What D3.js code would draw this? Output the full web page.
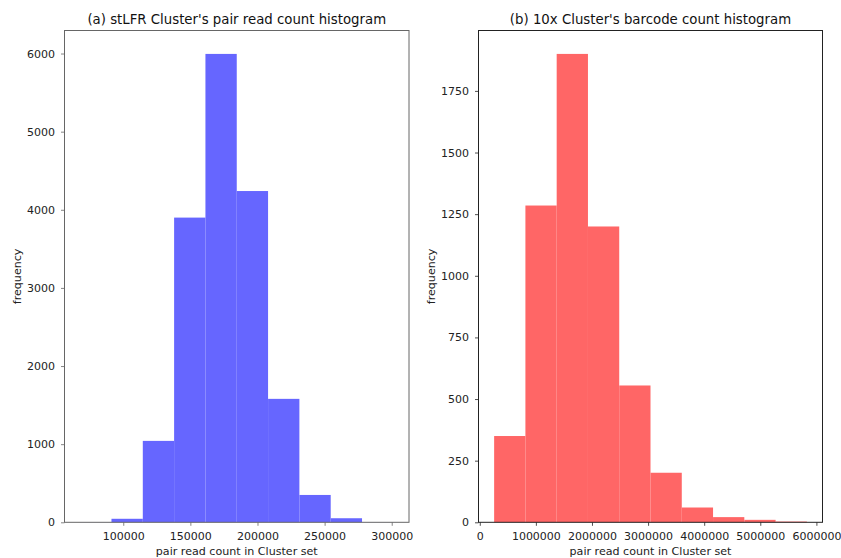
<!DOCTYPE html>
<html><head><meta charset="utf-8">
<script src="https://cdn.jsdelivr.net/npm/d3@7"></script>
<style>
body{margin:0;background:#fff;}
text{font-family:"DejaVu Sans",sans-serif;}
</style></head>
<body>
<svg id="chart" width="841" height="558"></svg>
<script>
// ---- data ----
const stlfrTitle = "(a) stLFR Cluster's pair read count histogram";
const stlfrEdges = [67900, 91230, 114560, 137890, 161220, 184550, 207880, 231210, 254540, 277870, 301200];
const stlfrCounts = [1, 45, 1042, 3900, 5995, 4240, 1580, 350, 52, 1];
const stlfrXTicks = [100000, 150000, 200000, 250000, 300000];
const stlfrYTicks = [0, 1000, 2000, 3000, 4000, 5000, 6000];

const tenxTitle = "(b) 10x Cluster's barcode count histogram";
const tenxEdges = [256000, 813400, 1370800, 1928200, 2485600, 3043000, 3600400, 4157800, 4715200, 5272600, 5830000];
const tenxCounts = [350, 1285, 1900, 1200, 555, 201, 60, 21, 10, 3];
const tenxXTicks = [0, 1000000, 2000000, 3000000, 4000000, 5000000, 6000000];
const tenxYTicks = [0, 250, 500, 750, 1000, 1250, 1500, 1750];

const xLabel = "pair read count in Cluster set";
const yLabel = "frequency";

const svg = d3.select("#chart");

function panel(opts){
  const {x0, x1, y0, y1, edges, counts, xTicks, yTicks, title, fill, spine} = opts;
  const lo = edges[0], hi = edges[edges.length-1], R = hi - lo;
  const x = d3.scaleLinear().domain([lo - 0.05*R, hi + 0.05*R]).range([x0, x1]);
  const y = d3.scaleLinear().domain([0, d3.max(counts)*1.05]).range([y1, y0]);
  const g = svg.append("g");
  const bins = counts.map((c,i)=>({a:edges[i], b:edges[i+1], c}));
  g.selectAll("rect.bar").data(bins).enter().append("rect")
    .attr("class","bar")
    .attr("x", d=>x(d.a)).attr("width", d=>x(d.b)-x(d.a))
    .attr("y", d=>y(d.c)).attr("height", d=>y(0)-y(d.c))
    .attr("fill", fill);
  // frame
  g.append("rect").attr("x",x0).attr("y",y0).attr("width",x1-x0).attr("height",y1-y0)
    .attr("fill","none").attr("stroke",spine).attr("stroke-width",1);
  const xa = g.append("g").attr("transform",`translate(0,${y1})`)
    .call(d3.axisBottom(x).tickValues(xTicks).tickFormat(d3.format("d")).tickSizeInner(3.5).tickSizeOuter(0).tickPadding(6));
  const ya = g.append("g").attr("transform",`translate(${x0},0)`)
    .call(d3.axisLeft(y).tickValues(yTicks).tickFormat(d3.format("d")).tickSizeInner(3.5).tickSizeOuter(0).tickPadding(6));
  [xa, ya].forEach(a=>{
    a.select(".domain").remove();
    a.selectAll("line").attr("stroke",spine).attr("stroke-width",0.8);
    a.selectAll("text").attr("font-family","DejaVu Sans").attr("font-size",11).attr("fill","#222");
  });
  g.append("text").attr("x",(x0+x1)/2).attr("y",24).attr("text-anchor","middle")
    .attr("font-size",13.3).attr("fill","#111").text(title);
  g.append("text").attr("x",(x0+x1)/2).attr("y",555).attr("text-anchor","middle")
    .attr("font-size",11.1).attr("fill","#222").text(xLabel);
  g.append("text").attr("transform",`translate(${x0-44},${(y0+y1)/2}) rotate(-90)`)
    .attr("text-anchor","middle").attr("font-size",11.1).attr("fill","#222").text(yLabel);
}

panel({x0:64.5, x1:409, y0:30.5, y1:522.3, edges:stlfrEdges, counts:stlfrCounts,
  xTicks:stlfrXTicks, yTicks:stlfrYTicks, title:stlfrTitle, fill:"#6666ff", spine:"#666"});
panel({x0:478.5, x1:822.5, y0:30.5, y1:522.3, edges:tenxEdges, counts:tenxCounts,
  xTicks:tenxXTicks, yTicks:tenxYTicks, title:tenxTitle, fill:"#ff6666", spine:"#222"});
</script>
</body></html>
